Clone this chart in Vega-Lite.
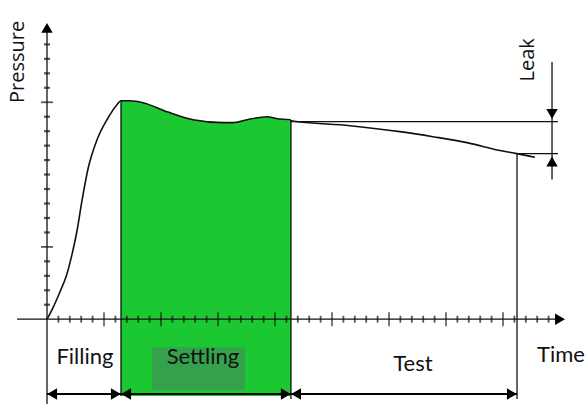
{
  "$schema": "https://vega.github.io/schema/vega-lite/v6.json",
  "width": 588,
  "height": 405,
  "autosize": {"type": "fit", "contains": "padding"},
  "padding": 0,
  "background": "white",
  "config": {"view": {"stroke": null}},
  "datasets": {
    "curve": [
      {"t": 0, "p": 0}, {"t": 0.5, "p": 0.75}, {"t": 1.14, "p": 1.9}, {"t": 1.7, "p": 3.0}, {"t": 2.2, "p": 4.5}, {"t": 2.63, "p": 6.1},
      {"t": 3.07, "p": 8.2}, {"t": 3.6, "p": 10.4}, {"t": 4.39, "p": 12.41}, {"t": 5.26, "p": 13.79},
      {"t": 6.14, "p": 14.83}, {"t": 6.49, "p": 15.1}, {"t": 7.28, "p": 15.1}, {"t": 8.42, "p": 14.97},
      {"t": 10.53, "p": 14.34}, {"t": 12.81, "p": 13.79}, {"t": 15.44, "p": 13.59}, {"t": 16.32, "p": 13.59},
      {"t": 17.54, "p": 13.79}, {"t": 19.3, "p": 14.0}, {"t": 20.18, "p": 13.86}, {"t": 21.32, "p": 13.79},
      {"t": 21.4, "p": 13.72}, {"t": 26.58, "p": 13.38}, {"t": 30.96, "p": 12.97}, {"t": 33.86, "p": 12.62},
      {"t": 36.84, "p": 12.21}, {"t": 39.74, "p": 11.66}, {"t": 41.23, "p": 11.45}, {"t": 42.8, "p": 11.2}
    ],
    "green": [
      {"t": 6.49, "p": 15.1, "base": -5.31}, {"t": 7.28, "p": 15.1, "base": -5.31}, {"t": 8.42, "p": 14.97, "base": -5.31},
      {"t": 10.53, "p": 14.34, "base": -5.31}, {"t": 12.81, "p": 13.79, "base": -5.31}, {"t": 15.44, "p": 13.59, "base": -5.31},
      {"t": 16.32, "p": 13.59, "base": -5.31}, {"t": 17.54, "p": 13.79, "base": -5.31}, {"t": 19.3, "p": 14.0, "base": -5.31},
      {"t": 20.18, "p": 13.86, "base": -5.31}, {"t": 21.4, "p": 13.72, "base": -5.31}
    ],
    "box": [{"t": 9.21, "t2": 17.37, "p": -1.93, "p2": -4.9}],
    "segments": [
      {"t": 0, "p": -5.86, "t2": 0, "p2": 20.3},
      {"t": -2.63, "p": 0, "t2": 45.0, "p2": 0},
      {"t": 6.49, "p": 15.1, "t2": 6.49, "p2": -5.31},
      {"t": 21.4, "p": 13.72, "t2": 21.4, "p2": -5.52},
      {"t": 41.23, "p": 11.45, "t2": 41.23, "p2": -5.52},
      {"t": 21.4, "p": 13.66, "t2": 44.82, "p2": 13.66},
      {"t": 41.23, "p": 11.45, "t2": 44.82, "p2": 11.45},
      {"t": 44.3, "p": 17.79, "t2": 44.3, "p2": 9.66}
    ],
    "spans": [
      {"t": 0, "p": -5.17, "t2": 6.49, "p2": -5.17},
      {"t": 6.49, "p": -5.17, "t2": 21.4, "p2": -5.17},
      {"t": 21.4, "p": -5.17, "t2": 41.23, "p2": -5.17}
    ],
    "heads": [
      {"t": 0.45, "p": -5.17, "dir": "left"}, {"t": 6.04, "p": -5.17, "dir": "right"},
      {"t": 6.94, "p": -5.17, "dir": "left"}, {"t": 20.95, "p": -5.17, "dir": "right"},
      {"t": 21.85, "p": -5.17, "dir": "left"}, {"t": 40.78, "p": -5.17, "dir": "right"},
      {"t": 0, "p": 20.14, "dir": "up"}, {"t": 45.0, "p": 0, "dir": "right"},
      {"t": 44.3, "p": 14.2, "dir": "down"}, {"t": 44.3, "p": 10.9, "dir": "up"}
    ],
    "xticks": [
      {"t": 1, "p": 0, "major": false}, {"t": 2, "p": 0, "major": false}, {"t": 3, "p": 0, "major": false}, {"t": 4, "p": 0, "major": false}, {"t": 5, "p": 0, "major": true},
      {"t": 6, "p": 0, "major": false}, {"t": 7, "p": 0, "major": false}, {"t": 8, "p": 0, "major": false}, {"t": 9, "p": 0, "major": false}, {"t": 10, "p": 0, "major": true},
      {"t": 11, "p": 0, "major": false}, {"t": 12, "p": 0, "major": false}, {"t": 13, "p": 0, "major": false}, {"t": 14, "p": 0, "major": false}, {"t": 15, "p": 0, "major": true},
      {"t": 16, "p": 0, "major": false}, {"t": 17, "p": 0, "major": false}, {"t": 18, "p": 0, "major": false}, {"t": 19, "p": 0, "major": false}, {"t": 20, "p": 0, "major": true},
      {"t": 21, "p": 0, "major": false}, {"t": 22, "p": 0, "major": false}, {"t": 23, "p": 0, "major": false}, {"t": 24, "p": 0, "major": false}, {"t": 25, "p": 0, "major": true},
      {"t": 26, "p": 0, "major": false}, {"t": 27, "p": 0, "major": false}, {"t": 28, "p": 0, "major": false}, {"t": 29, "p": 0, "major": false}, {"t": 30, "p": 0, "major": true},
      {"t": 31, "p": 0, "major": false}, {"t": 32, "p": 0, "major": false}, {"t": 33, "p": 0, "major": false}, {"t": 34, "p": 0, "major": false}, {"t": 35, "p": 0, "major": true},
      {"t": 36, "p": 0, "major": false}, {"t": 37, "p": 0, "major": false}, {"t": 38, "p": 0, "major": false}, {"t": 39, "p": 0, "major": false}, {"t": 40, "p": 0, "major": true},
      {"t": 41, "p": 0, "major": false}, {"t": 42, "p": 0, "major": false}, {"t": 43, "p": 0, "major": false}, {"t": 44, "p": 0, "major": false}
    ],
    "yticks": [
      {"t": 0, "p": 1, "major": false}, {"t": 0, "p": 2, "major": false}, {"t": 0, "p": 3, "major": false}, {"t": 0, "p": 4, "major": false}, {"t": 0, "p": 5, "major": true},
      {"t": 0, "p": 6, "major": false}, {"t": 0, "p": 7, "major": false}, {"t": 0, "p": 8, "major": false}, {"t": 0, "p": 9, "major": false}, {"t": 0, "p": 10, "major": false},
      {"t": 0, "p": 11, "major": false}, {"t": 0, "p": 12, "major": false}, {"t": 0, "p": 13, "major": false}, {"t": 0, "p": 14, "major": false}, {"t": 0, "p": 15, "major": true},
      {"t": 0, "p": 16, "major": false}, {"t": 0, "p": 17, "major": false}, {"t": 0, "p": 18, "major": false}, {"t": 0, "p": 19, "major": false}
    ],
    "labels": [
      {"t": 3.33, "p": -2.62, "text": "Filling"},
      {"t": 13.68, "p": -2.62, "text": "Settling"},
      {"t": 32.1, "p": -3.1, "text": "Test"},
      {"t": 45.09, "p": -2.48, "text": "Time"}
    ],
    "vlabels": [
      {"t": -2.54, "p": 17.79, "text": "Pressure"},
      {"t": 42.19, "p": 17.93, "text": "Leak"}
    ]
  },
  "encoding": {
    "x": {"field": "t", "type": "quantitative", "scale": {"domain": [-4.123, 47.456], "nice": false, "zero": false}, "axis": null},
    "y": {"field": "p", "type": "quantitative", "scale": {"domain": [-5.862, 22.069], "nice": false, "zero": false}, "axis": null}
  },
  "layer": [
    {
      "data": {"name": "green"},
      "mark": {"type": "area", "color": "#1cc832", "opacity": 1},
      "encoding": {"y2": {"field": "base"}}
    },
    {
      "data": {"name": "box"},
      "mark": {"type": "rect", "color": "#34a24d"},
      "encoding": {"x2": {"field": "t2"}, "y2": {"field": "p2"}}
    },
    {
      "data": {"name": "segments"},
      "mark": {"type": "rule", "color": "#111111", "strokeWidth": 1.3},
      "encoding": {"x2": {"field": "t2"}, "y2": {"field": "p2"}}
    },
    {
      "data": {"name": "spans"},
      "mark": {"type": "rule", "color": "#000000", "strokeWidth": 2.2},
      "encoding": {"x2": {"field": "t2"}, "y2": {"field": "p2"}}
    },
    {
      "data": {"name": "xticks"},
      "transform": [{"filter": "!datum.major"}],
      "mark": {"type": "tick", "orient": "vertical", "color": "#111111", "size": 7, "thickness": 1.8},
      "encoding": {}
    },
    {
      "data": {"name": "xticks"},
      "transform": [{"filter": "datum.major"}],
      "mark": {"type": "tick", "orient": "vertical", "color": "#111111", "size": 14, "thickness": 1.6},
      "encoding": {}
    },
    {
      "data": {"name": "yticks"},
      "transform": [{"filter": "!datum.major"}],
      "mark": {"type": "tick", "orient": "horizontal", "color": "#111111", "size": 6, "thickness": 2.2},
      "encoding": {}
    },
    {
      "data": {"name": "yticks"},
      "transform": [{"filter": "datum.major"}],
      "mark": {"type": "tick", "orient": "horizontal", "color": "#111111", "size": 12, "thickness": 1.8},
      "encoding": {}
    },
    {
      "data": {"name": "curve"},
      "mark": {"type": "line", "color": "#111111", "strokeWidth": 1.6, "interpolate": "monotone"},
      "encoding": {}
    },
    {
      "data": {"name": "heads"},
      "mark": {"type": "point", "filled": true, "color": "#000000", "size": 130, "opacity": 1},
      "encoding": {
        "shape": {"field": "dir", "type": "nominal", "legend": null,
          "scale": {"domain": ["up", "down", "left", "right"], "range": ["triangle-up", "triangle-down", "triangle-left", "triangle-right"]}}
      }
    },
    {
      "data": {"name": "labels"},
      "mark": {"type": "text", "font": "Lato", "fontSize": 22, "color": "#111111", "align": "center", "baseline": "middle"},
      "encoding": {"text": {"field": "text"}}
    },
    {
      "data": {"name": "vlabels"},
      "mark": {"type": "text", "font": "Open Sans", "fontSize": 20, "color": "#111111", "align": "center", "baseline": "middle", "angle": 270},
      "encoding": {"text": {"field": "text"}}
    }
  ]
}
